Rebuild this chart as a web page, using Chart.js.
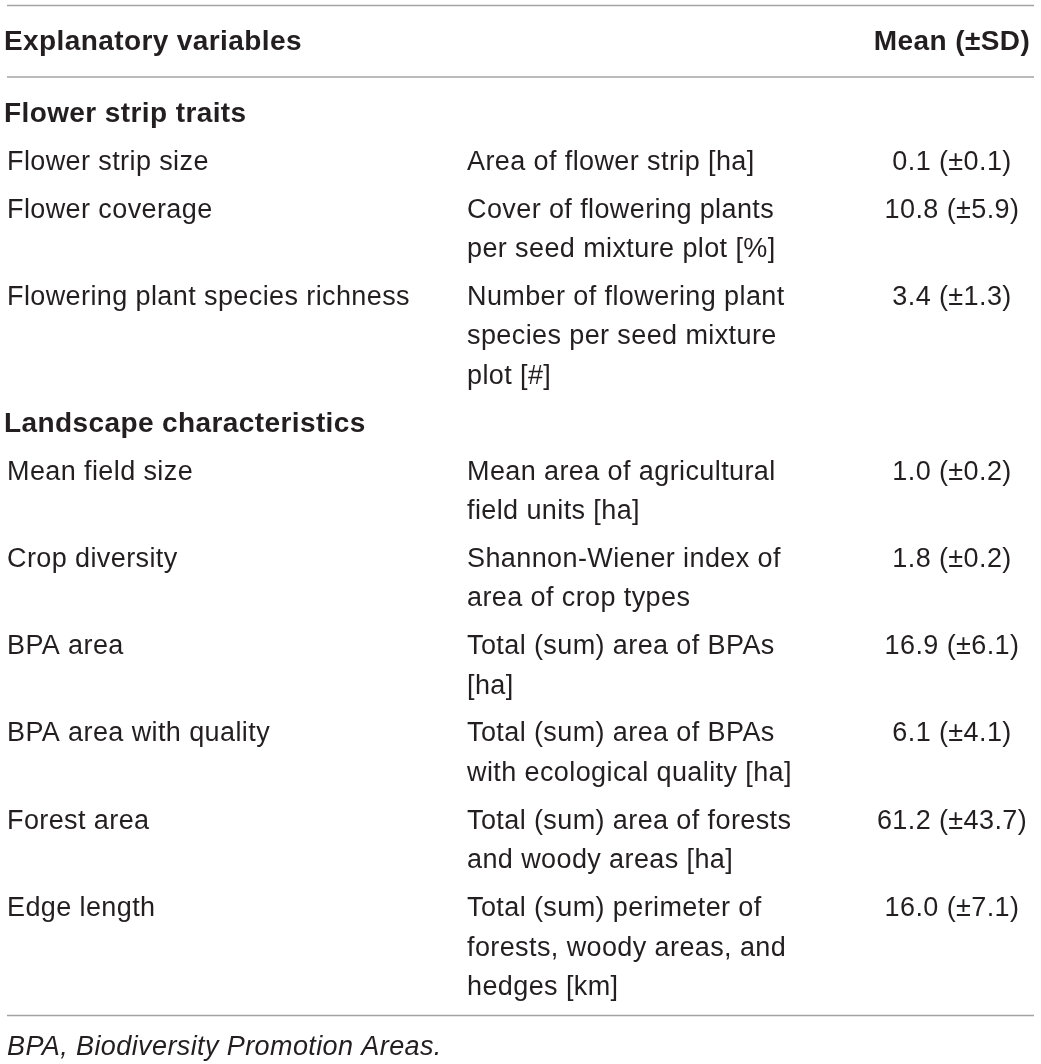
<!DOCTYPE html>
<html>
<head>
<meta charset="utf-8">
<script src="https://cdn.jsdelivr.net/npm/chart.js@4.4.1/dist/chart.umd.min.js"></script>
<style>
  html, body { margin: 0; padding: 0; background: #fff; }
  #wrap { width: 1041px; height: 1064px; }
</style>
</head>
<body>
<div id="wrap"><canvas id="myChart"></canvas></div>
<script>
const headers = ["Explanatory variables", "", "Mean (\u00b1SD)"];
const sections = ["Flower strip traits", "Landscape characteristics"];
const sectionOf = [0, 0, 0, 1, 1, 1, 1, 1, 1];
const variables = [
  "Flower strip size",
  "Flower coverage",
  "Flowering plant species richness",
  "Mean field size",
  "Crop diversity",
  "BPA area",
  "BPA area with quality",
  "Forest area",
  "Edge length"
];
const descriptions = [
  ["Area of flower strip [ha]"],
  ["Cover of flowering plants", "per seed mixture plot [%]"],
  ["Number of flowering plant", "species per seed mixture", "plot [#]"],
  ["Mean area of agricultural", "field units [ha]"],
  ["Shannon-Wiener index of", "area of crop types"],
  ["Total (sum) area of BPAs", "[ha]"],
  ["Total (sum) area of BPAs", "with ecological quality [ha]"],
  ["Total (sum) area of forests", "and woody areas [ha]"],
  ["Total (sum) perimeter of", "forests, woody areas, and", "hedges [km]"]
];
const means = [0.1, 10.8, 3.4, 1.0, 1.8, 16.9, 6.1, 61.2, 16.0];
const sds = [0.1, 5.9, 1.3, 0.2, 0.2, 6.1, 4.1, 43.7, 7.1];
const footnote = "BPA, Biodiversity Promotion Areas.";

// layout (canvas units == pixels on the 0..1041 / 0..1064 scales)
const W = 1041, H = 1064;
const colX = [7, 467, 952];
const sectionX = 4;
const lineH = 39.5, rowPad = 8.3;
const textColor = "#231f20";
const ruleColor = "#a3a3a3";
const fontFamily = "'Liberation Sans', Arial, Helvetica, sans-serif";

const cells = [];
const rules = [5.5, 77, 1015.5];
cells.push({ x: sectionX, y: 50, text: headers[0], bold: true, align: "left" });
cells.push({ x: colX[2], y: 50, text: headers[2], bold: true, align: "center" });

let y = 122;
let lastSection = -1;
variables.forEach((v, i) => {
  if (sectionOf[i] !== lastSection) {
    lastSection = sectionOf[i];
    cells.push({ x: sectionX, y: y, text: sections[lastSection], bold: true, align: "left" });
    y += lineH + rowPad;
  }
  cells.push({ x: colX[0], y: y, text: v, align: "left" });
  descriptions[i].forEach((line, k) => {
    cells.push({ x: colX[1], y: y + k * lineH, text: line, align: "left" });
  });
  cells.push({ x: colX[2], y: y, text: means[i].toFixed(1) + " (\u00b1" + sds[i].toFixed(1) + ")", align: "center" });
  y += descriptions[i].length * lineH + rowPad;
});
cells.push({ x: colX[0], y: 1055, text: footnote, italic: true, align: "left" });

const ruleSets = rules.map(r => ({
  type: "line",
  data: [{ x: 7, y: r }, { x: 1034, y: r }],
  borderColor: ruleColor,
  borderWidth: 1.6,
  pointRadius: 0,
  parsing: false
}));

const cellText = {
  id: "cellText",
  afterDatasetsDraw(chart) {
    const c = chart.ctx;
    const meta = chart.getDatasetMeta(0);
    c.save();
    c.fillStyle = textColor;
    c.textBaseline = "alphabetic";
    meta.data.forEach((el, i) => {
      const d = cells[i];
      const size = d.bold ? 28 : 27;
      c.font = (d.italic ? "italic " : "") + (d.bold ? "bold " : "") + size + "px " + fontFamily;
      c.letterSpacing = "0.4px";
      c.textAlign = d.align;
      c.fillText(d.text, el.x, el.y);
    });
    c.restore();
  }
};

new Chart(document.getElementById("myChart"), {
  type: "scatter",
  data: {
    datasets: [
      { data: cells, pointRadius: 0, pointHoverRadius: 0 },
      ...ruleSets
    ]
  },
  options: {
    responsive: true,
    maintainAspectRatio: false,
    animation: false,
    events: [],
    layout: { padding: 0 },
    plugins: { legend: { display: false }, tooltip: { enabled: false } },
    scales: {
      x: { type: "linear", min: 0, max: W, display: false },
      y: { type: "linear", min: 0, max: H, reverse: true, display: false }
    }
  },
  plugins: [cellText]
});
</script>
</body>
</html>
